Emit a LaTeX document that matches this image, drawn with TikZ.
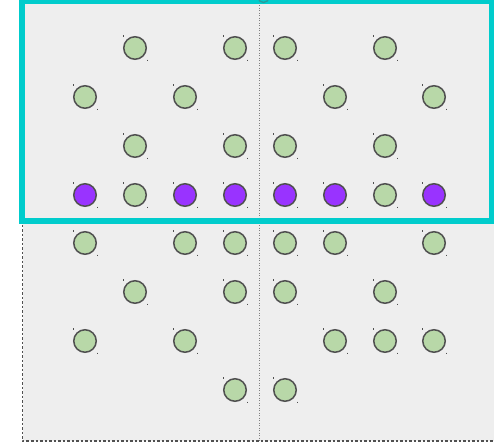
\documentclass[tikz,border=0pt]{standalone}
\usetikzlibrary{calc}
\definecolor{bgray}{HTML}{EEEEEE}
\definecolor{teal1}{HTML}{00CCCC}
\definecolor{teal2}{HTML}{2A9A9A}
\definecolor{gfill}{HTML}{B8D8A8}
\definecolor{pfill}{HTML}{9933FF}
\definecolor{edge}{HTML}{505050}
\tikzset{
  dot/.style={circle, draw=edge, line width=1.5pt, minimum size=22.5pt, inner sep=0pt},
  gdot/.style={dot, fill=gfill},
  pdot/.style={dot, fill=pfill},
  tick/.style={draw=edge, line width=0.6pt},
}
\begin{document}
\begin{tikzpicture}[x=1pt,y=-1pt]
\useasboundingbox (0,0) rectangle (494,442);
\begin{scope}
\clip (0,0) rectangle (494,442);
% background panel
\fill[bgray] (22.5,-5) rectangle (520,441);
\draw[edge, line width=1.5pt, dash pattern=on 2.5pt off 2pt] (22.5,-5) -- (22.5,441) -- (520,441);
% centre guide
\draw[gray, line width=0.7pt, dash pattern=on 1.2pt off 1.3pt] (259,0) -- (259,441);
% selection frame
\draw[teal1, line width=5.5pt] (22,1.5) rectangle (492,221);
\node[circle, draw=teal2, line width=1.3pt, minimum size=11pt, inner sep=0pt] (guide) at (263.5,-3) {};
% circles
\foreach \x/\y/\s/\n in {
  135/48/g/a1, 235/48/g/a2, 285/48/g/a3, 385/48/g/a4,
  85/97/g/b1, 185/97/g/b2, 335/97/g/b3, 434/97/g/b4,
  135/146/g/c1, 235/146/g/c2, 285/146/g/c3, 385/146/g/c4,
  85/195/p/d1, 135/195/g/d2, 185/195/p/d3, 235/195/p/d4, 285/195/p/d5, 335/195/p/d6, 385/195/g/d7, 434/195/p/d8,
  85/243/g/e1, 185/243/g/e2, 235/243/g/e3, 285/243/g/e4, 335/243/g/e5, 434/243/g/e6,
  135/292/g/f1, 235/292/g/f2, 285/292/g/f3, 385/292/g/f4,
  85/341/g/h1, 185/341/g/h2, 335/341/g/h3, 385/341/g/h4, 434/341/g/h5,
  235/390/g/i1, 285/390/g/i2}{
  \node[\s dot] (\n) at (\x,\y) {};
  \draw[tick] ($(\n.center)+(-11.5,-12.8)$) -- ++(0,1.3);
  \draw[tick] ($(\n.center)+(12,11.5)$) -- ++(0,1.3);
}
\end{scope}
\end{tikzpicture}
\end{document}
